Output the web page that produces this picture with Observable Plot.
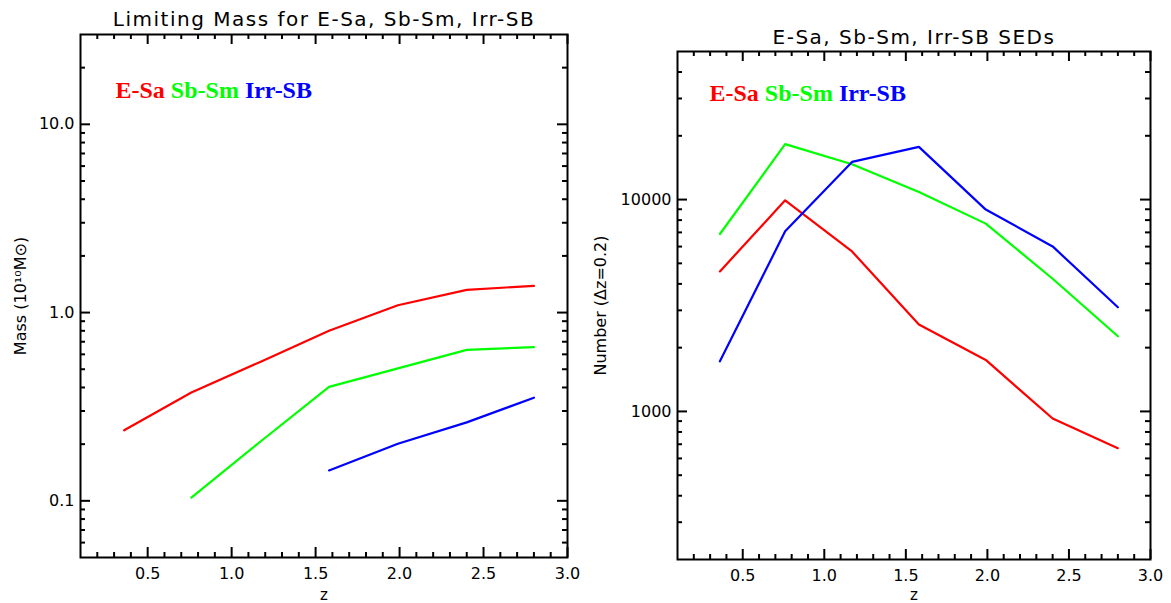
<!DOCTYPE html>
<html><head><meta charset="utf-8">
<script src="https://cdn.jsdelivr.net/npm/d3@7"></script>
<script src="https://cdn.jsdelivr.net/npm/@observablehq/plot@0.6"></script>
<style>
body{margin:0;background:#fff;}
#wrap{display:flex;width:1171px;height:603px;overflow:hidden;}
</style></head><body><div id="wrap"></div>
<script>
// ---- data ----
const z = [0.36, 0.76, 1.17, 1.58, 1.99, 2.40, 2.80];
const seriesNames = ["E-Sa", "Sb-Sm", "Irr-SB"];
const seriesColors = ["#ff0000", "#00ff00", "#0000ff"];
// left panel: limiting mass (10^10 Msun)
const massESa   = [0.237, 0.376, 0.547, 0.80, 1.094, 1.32, 1.387];
const massSbSm  = [null, 0.104, 0.206, 0.403, 0.505, 0.634, 0.655];
const massIrrSB = [null, null, null, 0.145, 0.201, 0.261, 0.353];
// right panel: number per dz=0.2
const numESa   = [4580, 9920, 5690, 2570, 1750, 926, 671];
const numSbSm  = [6880, 18260, 14690, 10860, 7700, 4230, 2264];
const numIrrSB = [1723, 7080, 15060, 17740, 8970, 6010, 3105];
// ticks
const xMajor = [0.5, 1.0, 1.5, 2.0, 2.5, 3.0];
const xMinor = [0.2,0.3,0.4,0.6,0.7,0.8,0.9,1.1,1.2,1.3,1.4,1.6,1.7,1.8,1.9,2.1,2.2,2.3,2.4,2.6,2.7,2.8,2.9];
const massMajor = [0.1, 1, 10];
const massMinor = [0.06,0.07,0.08,0.09,0.2,0.3,0.4,0.5,0.6,0.7,0.8,0.9,2,3,4,5,6,7,8,9,20];
const numMajor = [1000, 10000];
const numMinor = [300,400,500,600,700,800,900,2000,3000,4000,5000,6000,7000,8000,9000,20000,30000,40000];
const titles = ["Limiting Mass for E-Sa, Sb-Sm, Irr-SB", "E-Sa, Sb-Sm, Irr-SB SEDs"];
const yLabels = ["Mass (10¹⁰M⊙)", "Number (Δz=0.2)"];
const xLabel = "z";

function table(arrs) {
  const rows = [];
  arrs.forEach((arr, s) => arr.forEach((v, i) => { if (v != null) rows.push({z: z[i], v, series: seriesNames[s]}); }));
  return rows;
}

const legendFont = "bold 24px 'Liberation Serif'";
const ctx = document.createElement("canvas").getContext("2d");
ctx.font = legendFont;
const legendOffsets = [];
{ let acc = 0; seriesNames.forEach(n => { legendOffsets.push(acc); acc += ctx.measureText(n + " ").width; }); }

function panel(o) {
  const fw = o.width - o.ml - o.mr, fh = o.height - o.mt - o.mb;
  const tk = {stroke: "black", strokeWidth: 2};
  const svg = Plot.plot({
    width: o.width, height: o.height,
    marginLeft: o.ml, marginRight: o.mr, marginTop: o.mt, marginBottom: o.mb,
    style: {fontFamily: "DejaVu Sans", fontSize: "16px", color: "black", background: "white", overflow: "visible"},
    x: {type: "linear", domain: [0.1, 3.0]},
    y: {type: "log", domain: o.yDomain},
    color: {domain: seriesNames, range: seriesColors},
    marks: [
      Plot.line(table(o.series), {x: "z", y: "v", z: "series", stroke: "series", strokeWidth: 2.2}),
      Plot.frame({stroke: "black", strokeWidth: 2}),
      Plot.tickX(xMajor, {...tk, insetTop: fh - 10}),
      Plot.tickX(xMajor, {...tk, insetBottom: fh - 10}),
      Plot.tickX(xMinor, {...tk, insetTop: fh - 5}),
      Plot.tickX(xMinor, {...tk, insetBottom: fh - 5}),
      Plot.tickY(o.yMajor, {...tk, insetRight: fw - 10}),
      Plot.tickY(o.yMajor, {...tk, insetLeft: fw - 10}),
      Plot.tickY(o.yMinor, {...tk, insetRight: fw - 5}),
      Plot.tickY(o.yMinor, {...tk, insetLeft: fw - 5}),
      Plot.axisX({ticks: xMajor, tickFormat: d3.format(".1f"), tickSize: 0, tickPadding: 10, label: null, fontSize: 16}),
      Plot.axisY({ticks: o.yMajor, tickFormat: o.yFormat, tickSize: 0, tickPadding: 6, label: null, fontSize: 16}),
      Plot.text([o.title], {text: d => d, frameAnchor: "top", lineAnchor: "bottom", dy: o.titleDy, fontSize: 20}),
      Plot.text([o.ylabel], {text: d => d, frameAnchor: "left", textAnchor: "middle", rotate: -90, dx: o.ylabelDx, fontSize: 16}),
      Plot.text([xLabel], {text: d => d, frameAnchor: "bottom", lineAnchor: "bottom", dy: o.zDy, fontSize: 15}),
      ...seriesNames.map((n, i) => Plot.text([n], {text: d => d, frameAnchor: "top-left", textAnchor: "start", lineAnchor: "bottom",
        dx: o.legendDx + legendOffsets[i], dy: o.legendDy, fill: seriesColors[i],
        fontFamily: "Liberation Serif", fontWeight: "bold", fontSize: 24}))
    ]
  });
  d3.select(svg).selectAll("text").filter(function() { return this.textContent === o.title; })
    .style("letter-spacing", "1.5px");
  return svg;
}

const wrap = document.getElementById("wrap");
wrap.append(panel({
  width: 590, height: 603, ml: 80, mr: 23, mt: 34, mb: 46,
  yDomain: [0.05, 30], yMajor: massMajor, yMinor: massMinor, yFormat: d3.format(".1f"),
  series: [massESa, massSbSm, massIrrSB],
  title: titles[0], ylabel: yLabels[0], titleDy: -9, ylabelDx: -60, zDy: 42, legendDx: 35, legendDy: 63
}));
wrap.append(panel({
  width: 581, height: 603, ml: 87, mr: 21, mt: 51, mb: 44,
  yDomain: [200, 50000], yMajor: numMajor, yMinor: numMinor, yFormat: d3.format("d"),
  series: [numESa, numSbSm, numIrrSB],
  title: titles[1], ylabel: yLabels[1], titleDy: -8, ylabelDx: -77, zDy: 40, legendDx: 32, legendDy: 49
}));
</script></body></html>
